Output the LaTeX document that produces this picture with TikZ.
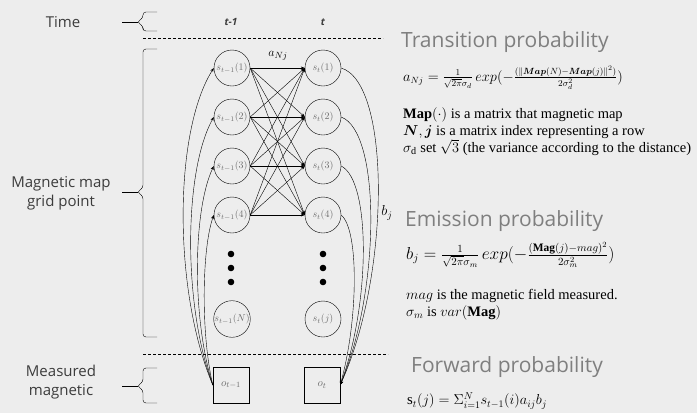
\documentclass[tikz,border=0pt]{standalone}
\usepackage{amsmath,amssymb}
\usepackage{fontspec}
\setmainfont{Liberation Serif}
\newfontfamily\labelsans{Open Sans}
\usetikzlibrary{arrows.meta,positioning}
\definecolor{canvas}{RGB}{237,237,237}
\definecolor{heading}{RGB}{127,127,127}
\definecolor{ink}{RGB}{60,60,60}

\begin{document}
\begin{tikzpicture}[x=1pt, y=-1pt,
  gridstate/.style={draw, circle, minimum size=36pt, inner sep=0pt, font=\fontsize{10}{12}\selectfont, text=ink!75},
  obsbox/.style={draw, minimum size=36pt, inner sep=0pt, font=\fontsize{11}{12}\selectfont, text=ink!75},
  arr/.style={-{Stealth[length=4pt,width=3pt]}, thin},
  side/.style={font=\labelsans\fontsize{15}{19}\selectfont, text=ink, align=center},
  head/.style={font=\labelsans\fontsize{21}{24}\selectfont, text=heading, anchor=west, inner sep=0pt},
  formula/.style={anchor=west, inner sep=0pt},
  body/.style={font=\fontsize{14.5}{17}\selectfont, anchor=north west, inner sep=0pt, align=left},
  divider/.style={dash pattern=on 3pt off 2pt, thin},
]
\fill[canvas] (0,0) rectangle (697,413);
\useasboundingbox (0,0) rectangle (697,413);

% LEFT LABELS AND BRACES
\node[side] (timelbl) at (63,22) {Time};
\node[side] (maplbl) at (61,193) {Magnetic map\\grid point};
\node[side] (measlbl) at (61,382) {Measured\\magnetic};

\draw[rounded corners=3pt] (157,12) -- (143,12) -- (143,18) -- (137,22) -- (143,26) -- (143,31) -- (157,31);
\draw (122,22) -- (138,22);
\draw[rounded corners=3pt] (157,49) -- (143,49) -- (143,188) -- (137,192) -- (143,196) -- (143,337) -- (157,337);
\draw (122,192) -- (138,192);
\draw[rounded corners=3pt] (157,368) -- (143,368) -- (143,382) -- (137,386) -- (143,390) -- (143,403) -- (157,403);
\draw (122,386) -- (138,386);

\draw[divider] (143,38.5) -- (383,38.5);
\draw[divider] (143,354) -- (388,354);

% TIME STEPS
\node[font=\labelsans\bfseries\itshape, text=ink] (prevtime) at (231,22) {t-1};
\node[font=\labelsans\bfseries\itshape, text=ink] (curtime) at (323,22) {t};

% STATES
\node[gridstate] (p1) at (232,68) {$s_{t-1}(1)$};
\node[gridstate] (p2) at (232,117) {$s_{t-1}(2)$};
\node[gridstate] (p3) at (232,166) {$s_{t-1}(3)$};
\node[gridstate] (p4) at (232,215) {$s_{t-1}(4)$};
\node[gridstate] (pN) at (232,319) {$s_{t-1}(N)$};

\node[gridstate] (c1) at (323,68) {$s_t(1)$};
\node[gridstate] (c2) at (323,117) {$s_t(2)$};
\node[gridstate] (c3) at (323,166) {$s_t(3)$};
\node[gridstate] (c4) at (323,215) {$s_t(4)$};
\node[gridstate] (cj) at (323,319) {$s_t(j)$};

\foreach \y in {254,268,282} {
  \fill (231,\y) circle (3.3);
  \fill (323,\y) circle (3.3);
}

\node[obsbox] (ob) at (231,385) {$o_{t-1}$};
\node[obsbox] (oc) at (322,385) {$o_t$};

% transitions
\foreach \i in {1,...,4}
  \foreach \j in {1,...,4}
    \draw[arr] (p\i.east) -- (c\j.west);
\node[font=\fontsize{13}{14}\selectfont] (alabel) at (278,56) {$a_{Nj}$};

% emissions
\foreach \i/\a/\u/\v in {1/40/95/63, 2/30/80/54, 3/21/66/44, 4/12/51/34}
  \draw[arr] (ob.west) .. controls +(-\a,-\u) and +(-\a,\v) .. (p\i.west);
\foreach \i/\a/\u/\v in {1/50/15/110, 2/40/15/95, 3/30/15/80, 4/18/15/65}
  \draw[arr] (c\i.east) .. controls +(\a,\u) and +(\a,-\v) .. (oc.east);
\node[font=\fontsize{14}{14}\selectfont] (blabel) at (387,213) {$b_j$};

% RIGHT TEXT
\node[head] (transhead) at (401,42) {Transition probability};
\node[formula, font=\fontsize{13.3}{16}\selectfont] (transeq) at (403,78) {$a_{Nj}=\frac{1}{\sqrt{2\pi}\sigma_d}\,exp(-\frac{(\|\boldsymbol{Map}(N)-\boldsymbol{Map}(j)\|^2)}{2\sigma_d^2})$};
\node[body] (mapnote) at (403,107) {\textbf{Map}$(\cdot)$ is a matrix that magnetic map\\
  $\boldsymbol{N},\boldsymbol{j}$ is a matrix index representing a row\\
  $\sigma_{\mathrm{d}}$ set $\sqrt{3}$ (the variance according to the distance)};

\node[head] (emithead) at (405,221) {Emission probability};
\node[formula, font=\fontsize{16.3}{18}\selectfont] (emiteq) at (406,255) {$b_j=\frac{1}{\sqrt{2\pi}\sigma_m}\,exp(-\frac{(\mathbf{Mag}(j)-mag)^2}{2\sigma_m^2})$};
\node[body] (magnote) at (406,289) {$mag$ is the magnetic field measured.\\
  $\sigma_m$ is $var(\mathbf{Mag})$};

\node[head] (fwdhead) at (411,367) {Forward probability};
\node[formula, font=\fontsize{14.8}{18}\selectfont] (fwdeq) at (407,401) {$\mathrm{s}_t(j)=\Sigma_{i=1}^{N}s_{t-1}(i)a_{ij}b_j$};
\end{tikzpicture}
\end{document}
